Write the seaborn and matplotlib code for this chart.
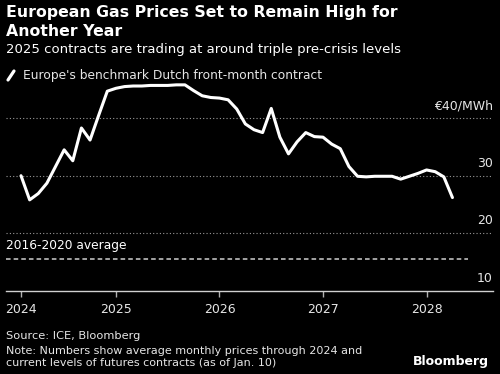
import matplotlib
matplotlib.use("Agg")
import matplotlib.pyplot as plt
import seaborn as sns
import pandas as pd
import numpy as np

# ---- data ----
month_index = list(range(51))  # Feb 2024 .. Apr 2028, monthly
prices = [30.0, 25.8, 26.9, 28.7, 31.6, 34.5, 32.6, 38.3, 36.2, 40.5,
          44.7, 45.2, 45.5, 45.6, 45.6, 45.7, 45.7, 45.7, 45.8, 45.8,
          44.8, 43.9, 43.6, 43.5, 43.2, 41.6, 39.0, 38.0, 37.5, 41.7,
          36.7, 33.8, 35.9, 37.5, 36.8, 36.7, 35.5, 34.7, 31.6, 29.9,
          29.8, 29.9, 29.9, 29.9, 29.4, 29.9, 30.4, 31.0, 30.7, 29.8,
          26.2]
avg_2016_2020 = 15.6
year_tick_pos = [0, 11, 23, 35, 47]
year_labels = ["2024", "2025", "2026", "2027", "2028"]
y_grid = [20, 30, 40]
y_labels = ["20", "30", "€40/MWh"]
y_label_10 = "10"

title_line1 = "European Gas Prices Set to Remain High for"
title_line2 = "Another Year"
subtitle = "2025 contracts are trading at around triple pre-crisis levels"
legend_label = "Europe's benchmark Dutch front-month contract"
avg_label = "2016-2020 average"
source = "Source: ICE, Bloomberg"
note = ("Note: Numbers show average monthly prices through 2024 and\n"
        "current levels of futures contracts (as of Jan. 10)")

df = pd.DataFrame({"month": month_index, "price": prices})

sns.set_theme(style="dark")
plt.rcParams["font.family"] = ["DejaVu Sans"]
BG = "#000000"
TXT = "#e6e6e6"

fig = plt.figure(figsize=(5.0, 3.74), dpi=100, facecolor=BG)
ax = fig.add_axes([0.012, 0.2227, 0.974, 0.595])
ax.set_facecolor(BG)

sns.lineplot(data=df, x="month", y="price", ax=ax, color="white",
             linewidth=2.2, legend=False)

ax.set_xlim(-1.74, 54.7)
ax.set_ylim(10, 48.7)

# grid lines
for g in y_grid:
    ax.axhline(g, color="#9a9a9a", linestyle=(0, (1, 2)), linewidth=0.8, zorder=0)
ax.axhline(avg_2016_2020, xmin=0, xmax=(468 - 6) / 487, color="#cfcfcf",
           linestyle=(0, (3, 2)), linewidth=1.1, zorder=1)

for sp in ["top", "right", "left"]:
    ax.spines[sp].set_visible(False)
ax.spines["bottom"].set_color("#d0d0d0")
ax.spines["bottom"].set_linewidth(1.0)

ax.set_yticks([])
ax.set_xticks(year_tick_pos)
ax.set_xticklabels(year_labels, color=TXT, fontsize=9)
ax.tick_params(axis="x", colors="#b0b0b0", length=4, width=1, direction="out",
               pad=5, labelcolor=TXT, bottom=True)
ax.set_xlabel("")
ax.set_ylabel("")

# right-side y labels
trans = ax.get_yaxis_transform()
for g, lab in zip(y_grid + [10], y_labels + [y_label_10]):
    ax.text(1.0, g + 1.0, lab, transform=trans, ha="right", va="bottom",
            color=TXT, fontsize=9)

ax.text(0.0, avg_2016_2020 + 1.2, avg_label, transform=trans,
        ha="left", va="bottom", color="white", fontsize=8.8)

# titles
fig.text(0.012, 1 - 12 / 374, title_line1, ha="left", va="center", color="white",
         fontsize=11.3, fontweight="bold")
fig.text(0.012, 1 - 31 / 374, title_line2, ha="left", va="center", color="white",
         fontsize=11.3, fontweight="bold")
fig.text(0.012, 1 - 49 / 374, subtitle, ha="left", va="center", color="white",
         fontsize=9.5)

# legend
fig.lines.append(plt.Line2D([0.016, 0.028], [1 - 80 / 374, 1 - 71 / 374],
                            transform=fig.transFigure, color="white", linewidth=2.3,
                            solid_capstyle="round"))
fig.text(0.046, 1 - 75 / 374, legend_label, ha="left", va="center",
         color=TXT, fontsize=8.8)

# footer
fig.text(0.012, 1 - 336 / 374, source, ha="left", va="center", color=TXT, fontsize=8.2)
fig.text(0.012, 1 - 357 / 374, note, ha="left", va="center", color=TXT,
         fontsize=8.0, linespacing=1.2)
fig.text(0.978, 1 - 361 / 374, "Bloomberg", ha="right", va="center", color="white",
         fontsize=9, fontweight="bold")

fig.savefig("out.png", dpi=100, facecolor=BG)
